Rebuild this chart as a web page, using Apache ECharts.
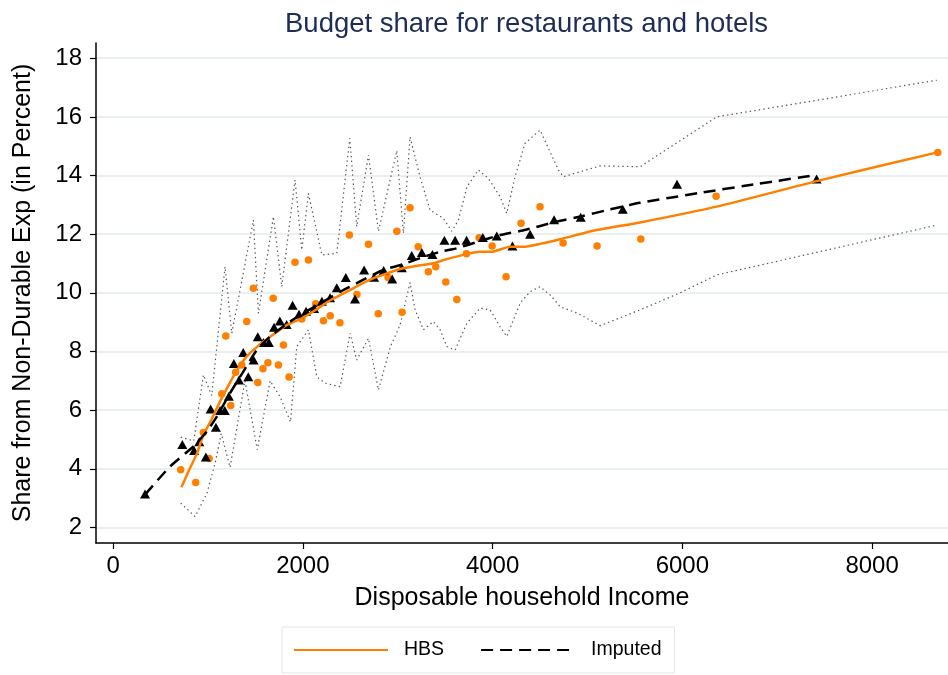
<!DOCTYPE html>
<html>
<head>
<meta charset="utf-8">
<title>Budget share for restaurants and hotels</title>
<script src="https://cdn.jsdelivr.net/npm/echarts@6/dist/echarts.min.js"></script>
<style>
  html, body { margin: 0; padding: 0; background: #fff; }
  #chart { width: 948px; height: 675px; }
</style>
</head>
<body>
<div id="chart"></div>
<script>
// tick labels
var xTicks = [0, 2000, 4000, 6000, 8000];
var yTicks = [2, 4, 6, 8, 10, 12, 14, 16, 18];

// HBS observations (orange dots)
var hbsIncome = [713, 871, 952, 1012, 1146, 1188, 1240, 1292, 1356, 1409, 1479, 1525, 1580, 1632, 1688, 1743, 1796, 1855,
  1918, 1989, 2059, 2136, 2217, 2289, 2391, 2491, 2570, 2692, 2795, 2898, 2991, 3046, 3130, 3216, 3323, 3401, 3507, 3623,
  3724, 3858, 3995, 4142, 4300, 4500, 4743, 5101, 5562, 6356, 8692];
var hbsShare = [3.97, 3.53, 5.24, 4.35, 6.56, 8.53, 6.16, 7.29, 7.54, 9.02, 10.16, 6.94, 7.41, 7.62, 9.82, 7.54, 8.22, 7.13,
  11.04, 9.11, 11.12, 9.63, 9.05, 9.22, 8.98, 11.97, 9.94, 11.66, 9.29, 10.52, 12.1, 9.34, 12.9, 11.57, 10.72, 10.89, 10.37, 9.77,
  11.33, 11.88, 11.6, 10.55, 12.37, 12.94, 11.7, 11.6, 11.84, 13.29, 14.79];

// Imputed observations (black triangles)
var impIncome = [337, 730, 854, 908, 978, 1028, 1084, 1128, 1177, 1220, 1273, 1327, 1372, 1425, 1481, 1525, 1584, 1642,
  1697, 1758, 1829, 1892, 1960, 2034, 2119, 2201, 2287, 2358, 2453, 2550, 2646, 2751, 2852, 2942, 3043, 3148, 3254, 3366,
  3492, 3605, 3726, 3897, 4044, 4209, 4395, 4648, 4929, 5372, 5944, 7415];
var impShare = [3.14, 4.83, 4.62, 4.92, 4.4, 6.04, 5.42, 5.99, 5.99, 6.47, 7.59, 7.03, 7.97, 7.14, 7.71, 8.5, 8.31, 8.31,
  8.83, 9.04, 8.92, 9.58, 9.27, 9.37, 9.47, 9.71, 9.83, 10.17, 10.52, 9.79, 10.78, 10.53, 10.76, 10.47, 10.86, 11.27, 11.38, 11.31,
  11.79, 11.79, 11.79, 11.89, 11.94, 11.6, 12.0, 12.49, 12.58, 12.85, 13.7, 13.88];

// fitted curves
var hbsFitX = [720, 800, 881, 952, 1040, 1128, 1233, 1304, 1400, 1514, 1655, 1830, 2005, 2150, 2287, 2430, 2568, 2710, 2849,
  3036, 3200, 3376, 3517, 3726, 3868, 3991, 4184, 4324, 4500, 4711, 5097, 5553, 6361, 7415, 8689];
var hbsFitY = [3.37, 3.95, 4.5, 5.15, 5.7, 6.3, 6.95, 7.35, 7.8, 8.15, 8.5, 8.9, 9.16, 9.45, 9.75, 9.98, 10.22, 10.45, 10.62,
  10.82, 10.92, 11.01, 11.15, 11.32, 11.4, 11.4, 11.57, 11.57, 11.67, 11.83, 12.14, 12.4, 12.94, 13.81, 14.79];

var impFitX = [337, 601, 846, 987, 1093, 1233, 1374, 1514, 1655, 1830, 2000, 2216, 2400, 2568, 2848, 3060, 3250, 3446, 3623,
  3850, 4079, 4350, 4676, 4950, 5204, 5553, 6187, 6800, 7415];
var impFitY = [3.12, 4.08, 4.76, 5.27, 5.78, 6.58, 7.32, 8.05, 8.51, 8.94, 9.3, 9.7, 10.05, 10.33, 10.78, 10.98, 11.2, 11.4, 11.52,
  11.75, 11.97, 12.15, 12.43, 12.62, 12.82, 13.07, 13.41, 13.72, 14.02];

// confidence band (dotted)
var upperX = [713, 850, 952, 1040, 1180, 1251, 1479, 1532, 1690, 1778, 1918, 1989, 2059, 2200, 2358, 2495, 2568, 2692, 2797,
  2990, 3060, 3130, 3235, 3341, 3481, 3570, 3640, 3730, 3850, 3956, 4079, 4149, 4237, 4342, 4500, 4694, 4746, 5133, 5555, 6362, 8681];
var upperY = [5.08, 4.95, 7.2, 6.5, 10.89, 8.62, 12.48, 9.3, 12.6, 10.21, 13.85, 11.46, 13.39, 11.29, 11.35, 15.27, 12.26, 14.7, 12.1,
  14.85, 12.03, 15.32, 13.96, 12.82, 12.54, 12.1, 12.48, 13.62, 14.19, 13.9, 13.28, 12.71, 13.96, 15.1, 15.55, 14.19, 13.96, 14.33, 14.3, 16.0, 17.25];

var lowerX = [713, 864, 990, 1075, 1140, 1233, 1390, 1520, 1655, 1760, 1870, 1936, 2059, 2147, 2235, 2393, 2498, 2568, 2692, 2797,
  2923, 3025, 3130, 3183, 3271, 3376, 3447, 3517, 3605, 3728, 3868, 3973, 4079, 4149, 4290, 4395, 4500, 4606, 4711, 4900, 5133,
  5555, 5975, 6362, 8681];
var lowerY = [2.83, 2.37, 3.17, 4.19, 5.2, 4.05, 7.0, 4.65, 7.0, 6.46, 5.6, 8.17, 8.74, 7.14, 6.92, 6.8, 8.62, 7.71, 8.45, 6.69,
  8.17, 8.9, 10.35, 9.42, 8.74, 9.02, 8.74, 8.17, 8.05, 8.96, 9.48, 9.42, 8.85, 8.51, 9.65, 10.04, 10.21, 9.93, 9.53, 9.3, 8.88,
  9.42, 10.0, 10.61, 12.31];

function pairs(xs, ys) {
  return xs.map(function (x, i) { return [x, ys[i]]; });
}

var font = '"Liberation Sans", Arial, Helvetica, sans-serif';
var orange = '#ff7f00';
var dotted = { color: '#555', width: 1.2, type: [1.4, 3.2] };

var myChart = echarts.init(document.getElementById('chart'), null, { renderer: 'canvas' });

var option = {
  animation: false,
  backgroundColor: '#fff',
  textStyle: { fontFamily: font },
  title: {
    text: 'Budget share for restaurants and hotels',
    left: 280,
    top: 5,
    textStyle: { color: '#1e2d55', fontSize: 27.5, fontWeight: 'normal', fontFamily: font }
  },
  legend: {
    data: ['HBS', 'Imputed'],
    left: 282,
    top: 627,
    itemWidth: 94,
    itemHeight: 14,
    itemGap: 36,
    padding: [13, 13, 13, 11],
    borderColor: '#dbe7ec',
    borderWidth: 1,
    itemStyle: { opacity: 0 },
    textStyle: { fontSize: 19.5, color: '#000', fontFamily: font, padding: [0, 0, 0, 11] }
  },
  grid: { left: 96, top: 43, right: 0, height: 500, containLabel: false },
  xAxis: {
    type: 'value',
    min: -180,
    max: 8800,
    name: 'Disposable household Income',
    nameLocation: 'middle',
    nameGap: 43,
    nameTextStyle: { fontSize: 25, color: '#000', fontFamily: font },
    axisLine: { onZero: false, lineStyle: { color: '#000', width: 1.5 } },
    axisTick: { customValues: xTicks, length: 6, lineStyle: { color: '#000', width: 1.2 } },
    axisLabel: {
      customValues: xTicks, fontSize: 24, color: '#000', margin: 11, fontFamily: font,
      formatter: function (v) { return String(v); }
    },
    splitLine: { show: false }
  },
  yAxis: {
    type: 'value',
    min: 1.47,
    max: 18.52,
    name: 'Share from Non-Durable Exp (in Percent)',
    nameLocation: 'middle',
    nameGap: 60,
    nameTextStyle: { fontSize: 25, color: '#000', fontFamily: font },
    axisLine: { show: true, onZero: false, lineStyle: { color: '#000', width: 1.5 } },
    axisTick: { show: true, customValues: yTicks, length: 6, lineStyle: { color: '#000', width: 1.2 } },
    axisLabel: {
      customValues: yTicks, fontSize: 24, color: '#000', margin: 14, fontFamily: font,
      formatter: function (v) { return String(v); }
    },
    splitLine: { show: true, lineStyle: { color: '#e8f0f2', width: 2 } }
  },
  series: [
    {
      name: 'upper', type: 'line', data: pairs(upperX, upperY),
      symbol: 'none', silent: true, lineStyle: dotted, z: 1
    },
    {
      name: 'lower', type: 'line', data: pairs(lowerX, lowerY),
      symbol: 'none', silent: true, lineStyle: dotted, z: 1
    },
    {
      name: 'HBS obs', type: 'scatter', data: pairs(hbsIncome, hbsShare),
      symbol: 'circle', symbolSize: 7.5, itemStyle: { color: orange, opacity: 1 }, z: 2
    },
    {
      name: 'Imputed obs', type: 'scatter', data: pairs(impIncome, impShare),
      symbol: 'triangle', symbolSize: [10, 9], itemStyle: { color: '#000', opacity: 1 }, z: 3
    },
    {
      name: 'HBS', type: 'line', data: pairs(hbsFitX, hbsFitY),
      symbol: 'none', smooth: 0.2, itemStyle: { color: orange },
      lineStyle: { color: orange, width: 2.5 }, z: 4
    },
    {
      name: 'Imputed', type: 'line', data: pairs(impFitX, impFitY),
      symbol: 'none', smooth: 0.2, itemStyle: { color: '#000' },
      lineStyle: { color: '#000', width: 2.5, type: [12, 7] }, z: 5
    }
  ]
};

myChart.setOption(option);
</script>
</body>
</html>
